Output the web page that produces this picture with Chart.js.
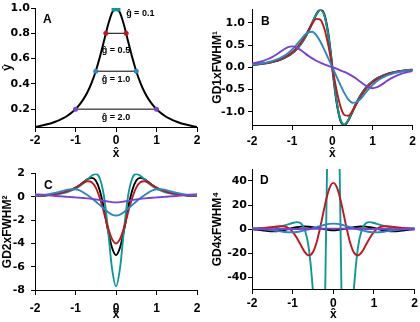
<!DOCTYPE html>
<html>
<head>
<meta charset="utf-8">
<script src="https://cdn.jsdelivr.net/npm/chart.js@4.4.1/dist/chart.umd.min.js"></script>
<style>
  html, body { margin: 0; padding: 0; background: #fff; }
  #wrap { position: relative; width: 420px; height: 322px; overflow: hidden; }
  canvas { position: absolute; }
</style>
</head>
<body>
<div id="wrap">
  <canvas id="chartA" width="210" height="161" style="left:0;top:0"></canvas>
  <canvas id="chartB" width="210" height="161" style="left:210px;top:0"></canvas>
  <canvas id="chartC" width="210" height="161" style="left:0;top:161px"></canvas>
  <canvas id="chartD" width="210" height="161" style="left:210px;top:161px"></canvas>
</div>
<script>
// x positions shared by every curve
const xs = [-2, -1.9, -1.8, -1.7, -1.6, -1.5, -1.4, -1.3, -1.2, -1.1, -1, -0.9, -0.8, -0.7, -0.6, -0.5, -0.4, -0.3, -0.2, -0.1,
  0, 0.1, 0.2, 0.3, 0.4, 0.5, 0.6, 0.7, 0.8, 0.9, 1, 1.1, 1.2, 1.3, 1.4, 1.5, 1.6, 1.7, 1.8, 1.9, 2];
const xTicks = [-2, -1, 0, 1, 2];

// Panel A: peak shape and gap segments
const peakA = [0.059, 0.065, 0.072, 0.080, 0.089, 0.100, 0.113, 0.129, 0.148, 0.171, 0.200, 0.236, 0.281, 0.338, 0.410, 0.500, 0.610, 0.735, 0.862, 0.962,
  1.000, 0.962, 0.862, 0.735, 0.610, 0.500, 0.410, 0.338, 0.281, 0.236, 0.200, 0.171, 0.148, 0.129, 0.113, 0.100, 0.089, 0.080, 0.072, 0.065, 0.059];
const gapWidths = [0.1, 0.5, 1.0, 2.0];
const gapHeights = [0.99, 0.8, 0.5, 0.2];
const gapLabels = ['ĝ = 0.1', 'ĝ = 0.5', 'ĝ = 1.0', 'ĝ = 2.0'];
const ticksA = [0.2, 0.4, 0.6, 0.8, 1.0];

// Panel B: first gap derivative
const d1Black = [0.055, 0.064, 0.074, 0.086, 0.101, 0.120, 0.143, 0.173, 0.210, 0.258, 0.320, 0.401, 0.505, 0.639, 0.806, 1.000, 1.190, 1.298, 1.189, 0.740,
  0, -0.740, -1.189, -1.298, -1.190, -1.000, -0.806, -0.639, -0.505, -0.401, -0.320, -0.258, -0.210, -0.173, -0.143, -0.120, -0.101, -0.086, -0.074, -0.064, -0.055];
const d1Teal = [0.055, 0.064, 0.074, 0.086, 0.101, 0.120, 0.144, 0.173, 0.211, 0.259, 0.321, 0.402, 0.506, 0.641, 0.807, 1.000, 1.187, 1.289, 1.174, 0.727,
  0, -0.727, -1.174, -1.289, -1.187, -1.000, -0.807, -0.641, -0.506, -0.402, -0.321, -0.259, -0.211, -0.173, -0.144, -0.120, -0.101, -0.086, -0.074, -0.064, -0.055];
const d1Red = [0.057, 0.066, 0.076, 0.089, 0.105, 0.125, 0.150, 0.181, 0.221, 0.273, 0.340, 0.426, 0.535, 0.671, 0.828, 0.985, 1.091, 1.075, 0.875, 0.493,
  0, -0.493, -0.875, -1.075, -1.091, -0.985, -0.828, -0.671, -0.535, -0.426, -0.340, -0.273, -0.221, -0.181, -0.150, -0.125, -0.105, -0.089, -0.076, -0.066, -0.057];
const d1Blue = [0.062, 0.072, 0.084, 0.099, 0.118, 0.141, 0.171, 0.209, 0.258, 0.321, 0.400, 0.497, 0.606, 0.714, 0.790, 0.800, 0.726, 0.581, 0.398, 0.200,
  0, -0.200, -0.398, -0.581, -0.726, -0.800, -0.790, -0.714, -0.606, -0.497, -0.400, -0.321, -0.258, -0.209, -0.171, -0.141, -0.118, -0.099, -0.084, -0.072, -0.062];
const d1Purple = [0.087, 0.104, 0.125, 0.152, 0.187, 0.231, 0.284, 0.345, 0.407, 0.454, 0.471, 0.448, 0.395, 0.328, 0.260, 0.200, 0.148, 0.105, 0.067, 0.032,
  0, -0.032, -0.067, -0.105, -0.148, -0.200, -0.260, -0.328, -0.395, -0.448, -0.471, -0.454, -0.407, -0.345, -0.284, -0.231, -0.187, -0.152, -0.125, -0.104, -0.087];
const ticksB = [-1.0, -0.5, 0.0, 0.5, 1.0];

// Panel C: second gap derivative
const d2Black = [0.081, 0.098, 0.119, 0.146, 0.180, 0.225, 0.284, 0.362, 0.465, 0.60, 0.78, 1.00, 1.27, 1.52, 1.63, 1.40, 0.55, -0.95, -2.85, -4.35,
  -5.0, -4.35, -2.85, -0.95, 0.55, 1.40, 1.63, 1.52, 1.27, 1.00, 0.78, 0.60, 0.465, 0.362, 0.284, 0.225, 0.180, 0.146, 0.119, 0.098, 0.081];
const d2Teal = [0.08, 0.09, 0.11, 0.14, 0.17, 0.21, 0.26, 0.33, 0.42, 0.55, 0.71, 0.92, 1.19, 1.51, 1.82, 1.96, 1.58, 0.12, -2.73, -6.10,
  -7.69, -6.10, -2.73, 0.12, 1.58, 1.96, 1.82, 1.51, 1.19, 0.92, 0.71, 0.55, 0.42, 0.33, 0.26, 0.21, 0.17, 0.14, 0.11, 0.09, 0.08];
const d2Red = [0.08, 0.10, 0.12, 0.15, 0.19, 0.24, 0.30, 0.38, 0.49, 0.63, 0.80, 1.00, 1.21, 1.34, 1.25, 0.80, -0.09, -1.31, -2.60, -3.61,
  -4.00, -3.61, -2.60, -1.31, -0.09, 0.80, 1.25, 1.34, 1.21, 1.00, 0.80, 0.63, 0.49, 0.38, 0.30, 0.24, 0.19, 0.15, 0.12, 0.10, 0.08];
const d2Blue = [0.11, 0.14, 0.17, 0.21, 0.27, 0.34, 0.43, 0.52, 0.62, 0.67, 0.66, 0.55, 0.37, 0.14, -0.12, -0.40, -0.70, -1.00, -1.30, -1.52,
  -1.60, -1.52, -1.30, -1.00, -0.70, -0.40, -0.12, 0.14, 0.37, 0.55, 0.66, 0.67, 0.62, 0.52, 0.43, 0.34, 0.27, 0.21, 0.17, 0.14, 0.11];
const d2Purple = [0.22, 0.21, 0.18, 0.15, 0.11, 0.08, 0.05, 0.03, 0.00, -0.02, -0.04, -0.07, -0.10, -0.13, -0.17, -0.22, -0.27, -0.34, -0.40, -0.45,
  -0.47, -0.45, -0.40, -0.34, -0.27, -0.22, -0.17, -0.13, -0.10, -0.07, -0.04, -0.02, 0.00, 0.03, 0.05, 0.08, 0.11, 0.15, 0.18, 0.21, 0.22];
const ticksC = [-8, -6, -4, -2, 0, 2];

// Panel D: fourth gap derivative
const d4Black = [-0.2, -0.5, -0.9, -1.4, -1.8, -2.0, -1.9, -1.5, -0.8, 0.0, 0.8, 1.5, 2.0, 2.1, 1.9, 1.5, 0.9, 0.3, -0.3, -0.8,
  -1.0, -0.8, -0.3, 0.3, 0.9, 1.5, 1.9, 2.1, 2.0, 1.5, 0.8, 0.0, -0.8, -1.5, -1.9, -2.0, -1.8, -1.4, -0.9, -0.5, -0.2];
const d4Teal = [0.30, 0.39, 0.51, 0.68, 0.9, 1.2, 1.6, 2.2, 3.0, 4.0, 5.0, 5.7, 4.8, -0.6, -16.8, -52.4, -107, -140, -51.6, 178,
  318, 178, -51.6, -140, -107, -52.4, -16.8, -0.6, 4.8, 5.7, 5.0, 4.0, 3.0, 2.2, 1.6, 1.2, 0.9, 0.68, 0.51, 0.39, 0.30];
const d4Red = [0.42, 0.55, 0.73, 0.97, 1.28, 1.65, 2.04, 2.30, 2.06, 0.76, -2.3, -7.2, -13.4, -19.2, -22.0, -19.2, -9.7, 4.9, 20.9, 33.6,
  38.4, 33.6, 20.9, 4.9, -9.7, -19.2, -22.0, -19.2, -13.4, -7.2, -2.3, 0.76, 2.06, 2.30, 2.04, 1.65, 1.28, 0.97, 0.73, 0.55, 0.42];
const d4Blue = [0.46, 0.31, 0.06, -0.25, -0.62, -1.03, -1.50, -1.99, -2.45, -2.77, -2.81, -2.49, -1.87, -1.07, -0.19, 0.74, 1.70, 2.67, 3.58, 4.26,
  4.52, 4.26, 3.58, 2.67, 1.70, 0.74, -0.19, -1.07, -1.87, -2.49, -2.81, -2.77, -2.45, -1.99, -1.50, -1.03, -0.62, -0.25, 0.06, 0.31, 0.46];
const d4Purple = [-0.23, -0.22, -0.19, -0.16, -0.12, -0.09, -0.06, -0.04, -0.02, 0.00, 0.02, 0.04, 0.06, 0.09, 0.12, 0.15, 0.20, 0.25, 0.30, 0.33,
  0.35, 0.33, 0.30, 0.25, 0.20, 0.15, 0.12, 0.09, 0.06, 0.04, 0.02, 0.00, -0.02, -0.04, -0.06, -0.09, -0.12, -0.16, -0.19, -0.22, -0.23];
const ticksD = [-40, -20, 0, 20, 40];

const COL = { black: '#000000', teal: '#0d9a94', red: '#c0161e', blue: '#2b86c2', purple: '#7a40d4' };
const gapColors = [COL.teal, COL.red, COL.blue, COL.purple];
const FONT = '"Liberation Sans", Arial, sans-serif';
const YFONT = '"DejaVu Sans", "Liberation Sans", sans-serif';

function curve(vals, color, width) {
  return {
    data: vals.map((y, i) => ({ x: xs[i], y: y })),
    borderColor: color,
    borderWidth: width || 1.9,
    pointRadius: 0,
    cubicInterpolationMode: 'monotone',
    fill: false
  };
}

// panel letters and the gap labels of panel A
const labelShift = [0, 17, 8, 8];
const panelText = {
  id: 'panelText',
  afterDraw(chart, args, o) {
    const ctx = chart.ctx, a = chart.chartArea;
    ctx.save();
    ctx.fillStyle = '#000';
    ctx.textBaseline = 'middle';
    ctx.font = 'bold 12px ' + FONT;
    ctx.fillText(o.letter, a.left + o.dx, a.top + 12);
    if (o.gapText) {
      const sx = chart.scales.x, sy = chart.scales.y;
      ctx.font = 'bold 9px ' + FONT;
      gapLabels.forEach((t, i) => {
        if (i === 0) {
          ctx.textAlign = 'left';
          ctx.fillText(t, sx.getPixelForValue(0.25), sy.getPixelForValue(0.96));
        } else {
          ctx.textAlign = 'center';
          ctx.fillText(t, sx.getPixelForValue(0), sy.getPixelForValue(gapHeights[i]) + labelShift[i]);
        }
      });
    }
    ctx.restore();
  }
};

function makeChart(id, p) {
  return new Chart(document.getElementById(id), {
    type: 'line',
    data: { datasets: p.datasets },
    options: {
      responsive: false,
      animation: false,
      events: [],
      layout: { padding: p.padding },
      plugins: {
        legend: { display: false },
        tooltip: { enabled: false },
        panelText: p.text
      },
      scales: {
        x: {
          type: 'linear', min: -2, max: 2,
          afterBuildTicks: s => { s.ticks = xTicks.map(v => ({ value: v })); },
          afterFit: s => { s.height = p.xHeight; },
          grid: { drawOnChartArea: false, drawTicks: true, tickLength: 5, color: '#000' },
          border: { display: true, color: '#000', width: 1 },
          ticks: { color: '#000', padding: p.xPad, maxRotation: 0, font: { family: FONT, size: 12, weight: 'bold' }, callback: v => String(v) },
          title: { display: true, text: 'x\u0302', color: '#000', padding: 0, font: { family: FONT, size: 12, weight: 'bold' } }
        },
        y: {
          type: 'linear', min: p.yMin, max: p.yMax,
          afterBuildTicks: s => { s.ticks = p.yTicks.map(v => ({ value: v })); },
          afterFit: s => { s.width = p.yWidth; },
          grid: { drawOnChartArea: false, drawTicks: true, tickLength: 4, color: '#000' },
          border: { display: true, color: '#000', width: 1 },
          ticks: { color: '#000', padding: p.yPad, font: { family: YFONT, size: 11, weight: 'bold' }, callback: p.yFmt },
          title: { display: true, text: p.yTitle, color: '#000', padding: 0, font: { family: FONT, size: 12, weight: 'bold' } }
        }
      }
    },
    plugins: [panelText]
  });
}

// gap segments of panel A
const gapSets = gapWidths.map((w, i) => ({
  data: [{ x: -w / 2, y: gapHeights[i] }, { x: w / 2, y: gapHeights[i] }],
  borderColor: '#000',
  borderWidth: 1,
  pointRadius: 2.5,
  pointBorderWidth: 0,
  pointBackgroundColor: gapColors[i]
}));

makeChart('chartA', {
  datasets: gapSets.concat([curve(peakA, COL.black, 2)]),
  padding: { left: 0, right: 13, top: 8, bottom: 0 },
  yWidth: 35, xHeight: 34, xPad: 1, yPad: 1,
  yMin: 0.0588, yMax: 1.0, yTicks: ticksA, yFmt: v => v.toFixed(1),
  yTitle: '\u0177',
  text: { letter: 'A', dx: 8, gapText: true }
});

makeChart('chartB', {
  datasets: [curve(d1Purple, COL.purple), curve(d1Blue, COL.blue), curve(d1Red, COL.red), curve(d1Teal, COL.teal), curve(d1Black, COL.black, 2.2)],
  padding: { left: 0, right: 6, top: 8, bottom: 0 },
  yWidth: 42, xHeight: 36, xPad: 4, yPad: 3,
  yMin: -1.3, yMax: 1.3, yTicks: ticksB, yFmt: v => v.toFixed(1),
  yTitle: 'GD1xFWHM\u00b9',
  text: { letter: 'B', dx: 9, gapText: false }
});

makeChart('chartC', {
  datasets: [curve(d2Purple, COL.purple), curve(d2Blue, COL.blue), curve(d2Red, COL.red), curve(d2Teal, COL.teal), curve(d2Black, COL.black)],
  padding: { left: 0, right: 13, top: 8, bottom: 0 },
  yWidth: 35, xHeight: 32, xPad: 6, yPad: 6,
  yMin: -8, yMax: 2, yTicks: ticksC, yFmt: v => String(v),
  yTitle: 'GD2xFWHM\u00b2',
  text: { letter: 'C', dx: 9, gapText: false }
});

makeChart('chartD', {
  datasets: [curve(d4Purple, COL.purple), curve(d4Blue, COL.blue), curve(d4Red, COL.red), curve(d4Teal, COL.teal), curve(d4Black, COL.black)],
  padding: { left: 0, right: 5, top: 8, bottom: 0 },
  yWidth: 42, xHeight: 33, xPad: 2, yPad: 1,
  yMin: -50, yMax: 50, yTicks: ticksD, yFmt: v => String(v),
  yTitle: 'GD4xFWHM\u2074',
  text: { letter: 'D', dx: 8, gapText: false }
});
</script>
</body>
</html>
